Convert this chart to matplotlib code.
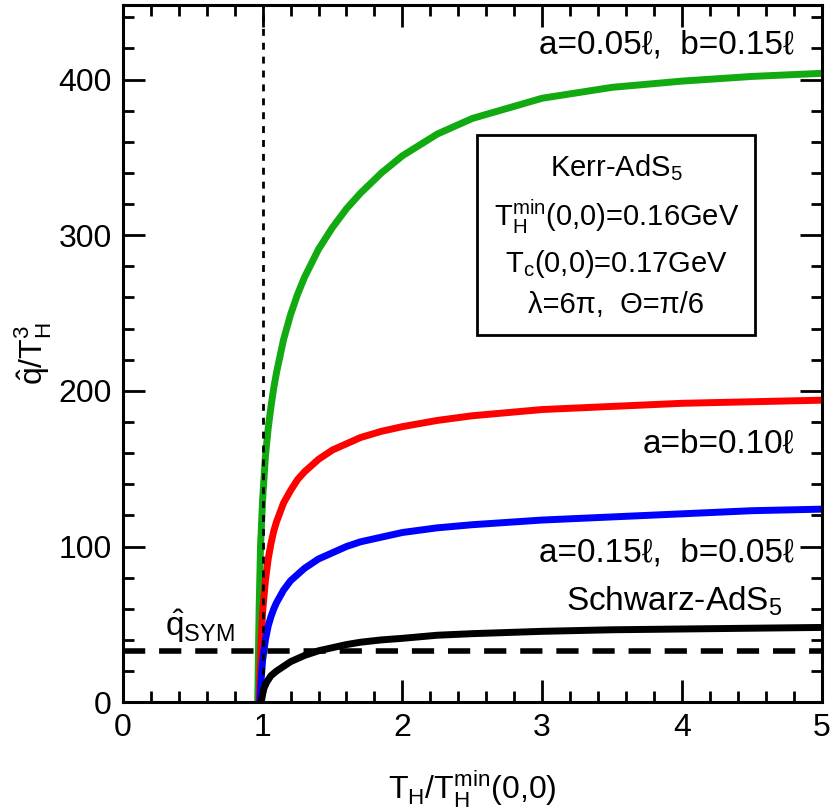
import matplotlib
matplotlib.use("Agg")
import matplotlib.pyplot as plt
from matplotlib.ticker import MultipleLocator

plt.rcParams['font.family'] = ['Liberation Sans Narrow', 'Liberation Sans', 'DejaVu Sans']
plt.rcParams['mathtext.fontset'] = 'custom'
plt.rcParams['mathtext.rm'] = 'Liberation Sans'

x_green = [0.965, 0.975, 0.985, 1.0, 1.02, 1.04, 1.06, 1.08, 1.1, 1.15, 1.2, 1.25, 1.3, 1.4, 1.5, 1.6, 1.7, 1.85, 2.0, 2.25, 2.5, 3.0, 3.5, 4.0, 4.5, 5.0]
y_green = [0, 60, 100, 130, 158, 176, 190, 202, 212, 233, 249, 262, 273, 291, 305, 317, 327, 340, 351, 365, 375, 388, 395, 399, 402, 404]
x_red = [0.975, 0.99, 1.0, 1.02, 1.04, 1.06, 1.08, 1.1, 1.15, 1.2, 1.25, 1.3, 1.4, 1.5, 1.6, 1.7, 1.85, 2.0, 2.25, 2.5, 3.0, 3.5, 4.0, 4.5, 5.0]
y_red = [0, 40, 58, 78, 92, 102, 110, 116, 128, 136, 143, 148, 156, 162, 166, 170, 174, 177, 181, 184, 188, 190, 192, 193, 194]
x_blue = [0.98, 0.99, 1.0, 1.02, 1.04, 1.06, 1.08, 1.1, 1.15, 1.2, 1.25, 1.3, 1.4, 1.5, 1.6, 1.7, 1.85, 2.0, 2.25, 2.5, 3.0, 3.5, 4.0, 4.5, 5.0]
y_blue = [0, 15, 27, 40, 49, 55, 60, 64, 72, 78, 82, 86, 92, 96, 100, 103, 106, 109, 112, 114, 117, 119, 121, 123, 124]
x_black = [0.99, 1.0, 1.01, 1.03, 1.06, 1.1, 1.15, 1.2, 1.3, 1.4, 1.5, 1.6, 1.7, 1.85, 2.0, 2.25, 2.5, 3.0, 3.5, 4.0, 4.5, 5.0]
y_black = [0, 5, 9, 13, 17, 20, 23, 26, 30, 33, 35, 37, 38.5, 40, 41, 43, 44, 45.5, 46.5, 47, 47.5, 48]
q_sym = 33

fig = plt.figure(figsize=(8.3, 8.08), dpi=100)
ax = fig.add_axes([0.148, 0.131, 0.842, 0.863])
ax.plot(x_green, y_green, color='#11aa11', lw=5, solid_capstyle='butt')
ax.plot(x_red, y_red, color='#ff0000', lw=5, solid_capstyle='butt')
ax.plot(x_blue, y_blue, color='#0000ff', lw=5, solid_capstyle='butt')
ax.plot(x_black, y_black, color='black', lw=5, solid_capstyle='butt')
ax.axhline(q_sym, color='black', lw=4, dashes=(4, 2.5))
ax.axvline(1, color='black', lw=2, dashes=(2.5, 2.5))

ax.set_xlim(0, 5)
ax.set_ylim(0, 448)
ax.xaxis.set_major_locator(MultipleLocator(1))
ax.xaxis.set_minor_locator(MultipleLocator(0.2))
ax.yaxis.set_major_locator(MultipleLocator(100))
ax.yaxis.set_minor_locator(MultipleLocator(20))
ax.tick_params(which='both', direction='in', top=True, right=True, width=2, labelsize=23, pad=8)
ax.tick_params(which='major', length=16)
ax.tick_params(which='minor', length=8)
for s in ax.spines.values():
    s.set_linewidth(2.2)

ax.set_xlabel(r'T$_\mathregular{H}$/T$_\mathregular{H}^\mathregular{min}$(0,0)', fontsize=23, labelpad=18)
ax.set_ylabel(r'$\hat{\mathregular{q}}$/T$_\mathregular{H}^\mathregular{3}$', fontsize=23, labelpad=4)

fs = 24
ax.text(4.8, 412, 'a=0.05ℓ,  b=0.15ℓ', fontsize=fs, ha='right', va='bottom')
ax.text(4.8, 176, 'a=b=0.10ℓ', fontsize=fs, ha='right', va='top')
ax.text(4.8, 106, 'a=0.15ℓ,  b=0.05ℓ', fontsize=fs, ha='right', va='top')
ax.text(4.72, 54, r'Schwarz-AdS$_\mathregular{5}$', fontsize=fs, ha='right', va='bottom')
ax.text(0.3, 37, r'$\hat{\mathregular{q}}_\mathregular{SYM}$', fontsize=fs, ha='left', va='bottom')

box = (r'Kerr-AdS$_\mathregular{5}$' + '\n' +
       r'T$_\mathregular{H}^\mathregular{min}$(0,0)=0.16GeV' + '\n' +
       r'T$_\mathregular{c}$(0,0)=0.17GeV' + '\n' +
       'λ=6π,  Θ=π/6')
ax.text(3.53, 300, box, fontsize=21, ha='center', va='center', linespacing=1.5,
        bbox=dict(boxstyle='square,pad=0.55', fc='white', ec='black', lw=2))

fig.savefig('out.png', dpi=100)
